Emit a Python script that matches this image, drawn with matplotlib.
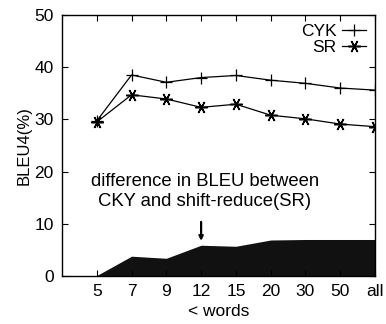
import matplotlib
matplotlib.use('agg')
from matplotlib import pyplot as plt
import numpy as np

plt.rcParams['font.family'] = ['Liberation Sans', 'DejaVu Sans']

# data
labels = ['5', '7', '9', '12', '15', '20', '30', '50', 'all']
cyk = [29.7, 38.5, 37.1, 38.0, 38.4, 37.5, 36.9, 36.0, 35.6]
sr = [29.5, 34.7, 33.9, 32.3, 32.9, 30.8, 30.1, 29.1, 28.6]
diff = [0.1, 3.8, 3.4, 5.9, 5.7, 6.9, 7.0, 7.0, 7.0]

x = np.arange(1, len(labels) + 1)

fig = plt.figure(figsize=(3.86, 3.24), dpi=100)
ax = fig.add_axes([0.1606, 0.148, 0.8109, 0.806])

ax.fill_between(x, 0, diff, color='#111111', linewidth=0)
ax.plot(x, cyk, color='black', linewidth=0.9, marker='+', markersize=9,
        markeredgewidth=0.9, label='CYK')
ax.plot(x, sr, color='black', linewidth=0.9, marker=(6, 2, 90), markersize=9,
        markeredgewidth=1.1, label='SR')

ax.annotate('', xy=(4, 6.2), xytext=(4, 10.9),
            arrowprops=dict(arrowstyle='-|>', color='black', lw=1.6,
                            mutation_scale=6))
ax.text(4.1, 16.2, 'difference in BLEU between\nCKY and shift-reduce(SR)',
        ha='center', va='center', fontsize=13.3, linespacing=1.2)

ax.set_xlim(0, 9)
ax.set_ylim(0, 50)
ax.set_xticks(x)
ax.set_xticklabels(labels)
ax.set_yticks([0, 10, 20, 30, 40, 50])
ax.tick_params(direction='in', top=True, right=True, length=4, width=0.8,
               labelsize=12.5, pad=6)
for s in ax.spines.values():
    s.set_linewidth(1.0)

ax.set_xlabel('< words', fontsize=12.5, labelpad=3)
ax.set_ylabel('BLEU4(%)', fontsize=12, labelpad=2)

ax.legend(loc='upper right', frameon=False, markerfirst=False, fontsize=12.5,
          handlelength=1.4, handletextpad=0.3, labelspacing=0.05,
          borderaxespad=0.1)

fig.savefig('out.png', dpi=100)
